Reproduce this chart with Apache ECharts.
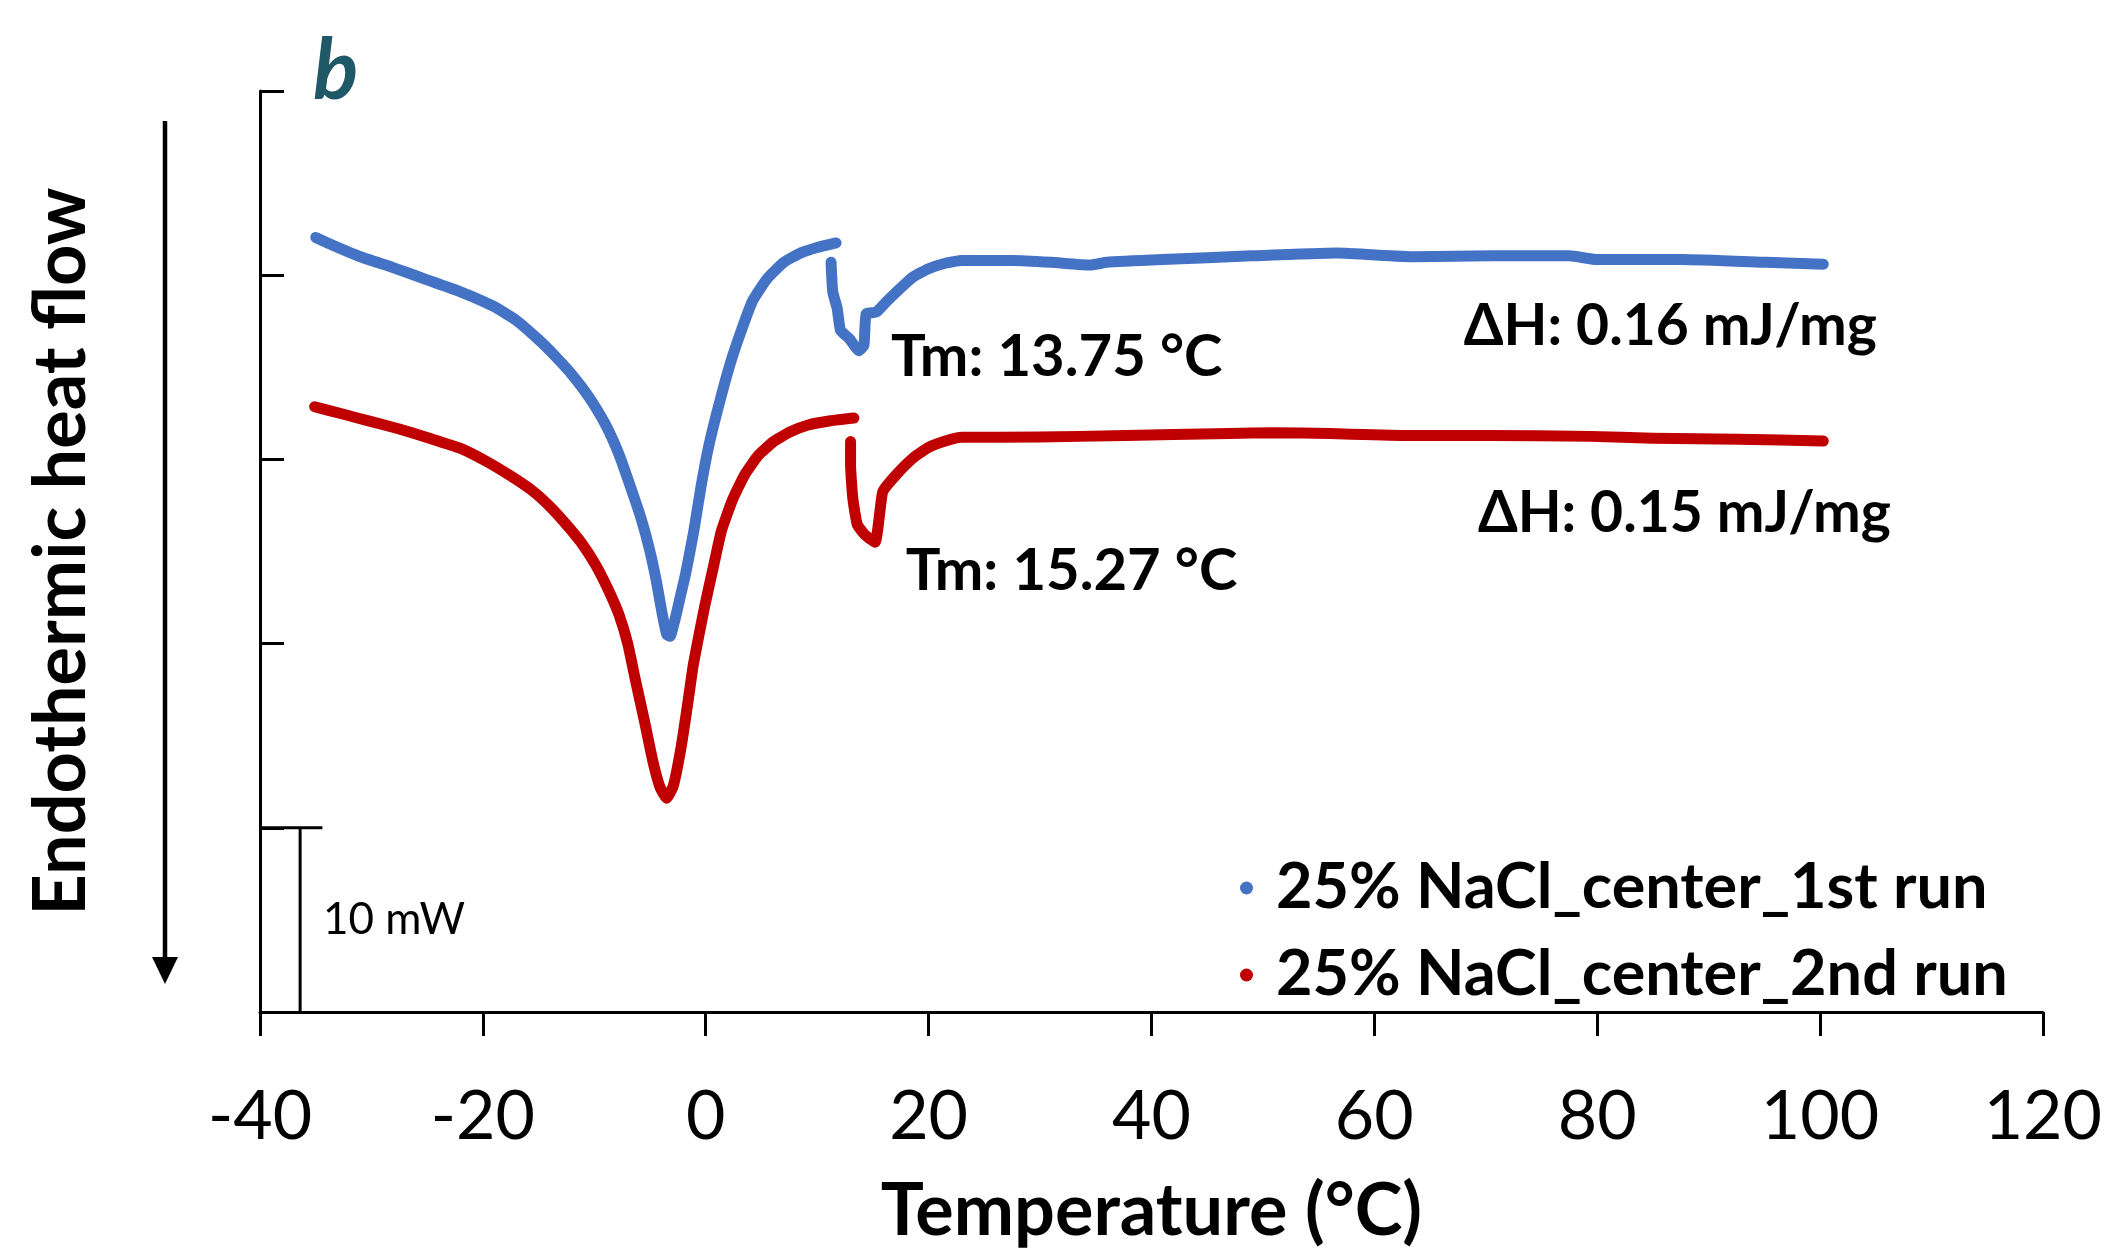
<!DOCTYPE html>
<html><head><meta charset="utf-8">
<script src="https://cdn.jsdelivr.net/npm/echarts@6/dist/echarts.min.js"></script>
<style>html,body{margin:0;padding:0;background:#fff}#c{width:2105px;height:1253px}</style>
</head><body><div id="c"></div>
<script>
// ---- data ----
const seriesNames = ['25% NaCl_center_1st run', '25% NaCl_center_2nd run'];
const xTickRange = [-40, 120, 20];
const yTickRange = [0, 50, 10]; // mW, one tick = 10 mW (scale bar)

// 1st run: main freezing/melting trough segment
const run1MainTemp = [-35.0,-33.0,-31.0,-28.0,-25.0,-22.0,-19.0,-17.0,-15.0,-13.5,-12.0,-10.5,-9.0,-7.8,-6.8,-5.8,-5.0,-4.4,-3.9,-3.5,-3.2,-2.8,-2.3,-1.8,-1.1,-0.4,0.3,1.2,2.2,3.2,4.2,5.5,7.0,8.5,10.0,11.7];
const run1MainFlow = [42.05,41.5,41.0,40.4,39.75,39.1,38.3,37.55,36.5,35.6,34.6,33.4,31.9,30.3,28.6,26.8,25.0,23.3,21.6,20.5,20.4,21.2,22.5,23.8,26.0,28.6,30.8,33.0,35.2,37.0,38.6,39.8,40.7,41.2,41.5,41.75];
// 1st run: small melting peak and baseline
const run1MeltTemp = [11.25,11.4,11.8,12.1,12.9,13.75,14.2,14.4,15.3,16.2,17.4,18.6,20.0,21.5,23.0,27.5,31.0,34.5,36.0,41.0,49.0,56.6,63.6,70.6,77.5,80.0,87.6,95.2,100.3];
const run1MeltFlow = [40.7,39.1,38.2,37.0,36.55,35.9,36.2,37.9,38.0,38.55,39.25,39.9,40.35,40.65,40.8,40.8,40.7,40.55,40.7,40.85,41.05,41.2,41.0,41.05,41.05,40.85,40.85,40.7,40.6];
// 2nd run
const run2MainTemp = [-35.1,-32.5,-30.0,-27.5,-24.8,-22.0,-19.7,-17.5,-15.5,-14.0,-12.5,-11.2,-9.9,-8.8,-7.8,-7.0,-6.3,-5.5,-4.7,-4.1,-3.5,-2.9,-2.2,-1.6,-1.1,-0.1,0.7,1.4,2.4,3.5,4.7,6.1,7.6,9.2,11.2,13.3];
const run2MainFlow = [32.86,32.45,32.05,31.65,31.15,30.6,29.9,29.1,28.27,27.45,26.46,25.5,24.3,23.0,21.6,20.0,18.0,15.8,13.5,12.2,11.6,12.3,14.4,16.8,18.9,22.0,24.2,26.1,27.8,29.17,30.2,30.97,31.5,31.87,32.1,32.25];
const run2MeltTemp = [13.0,13.0,13.2,13.6,14.3,15.2,15.6,15.9,17.1,18.6,20.0,21.5,23.0,26.3,33.5,42.0,47.0,51.0,56.0,63.0,70.0,79.4,85.0,92.7,100.3];
const run2MeltFlow = [30.97,29.7,27.9,26.46,25.9,25.5,27.0,28.27,29.17,30.07,30.65,31.0,31.2,31.2,31.25,31.35,31.4,31.45,31.4,31.3,31.3,31.25,31.15,31.1,31.0];

const annotationTexts = ['Tm: 13.75 °C', 'Tm: 15.27 °C', 'ΔH: 0.16 mJ/mg', 'ΔH: 0.15 mJ/mg'];
const scaleBarLabel = '10 mW';
const yAxisTitle = 'Endothermic heat flow';
const xAxisTitle = 'Temperature (°C)';
const panelLabel = 'b';

// ---- build ----
const zip = (a, b) => a.map((v, i) => [v, b[i]]);
const BLUE = '#4472C4', RED = '#C00000';
const FONT = 'Lato';

const chart = echarts.init(document.getElementById('c'));
const lineSeries = (name, data, color) => ({
  type: 'line', name, data, showSymbol: false, smooth: 0.15,
  lineStyle: { color, width: 11, cap: 'round', join: 'round' },
  itemStyle: { color }, z: 3, animation: false
});

chart.setOption({
  backgroundColor: '#fff',
  animation: false,
  grid: { left: 260, right: 60, top: 91, bottom: 237, containLabel: false },
  xAxis: {
    type: 'value', min: xTickRange[0], max: xTickRange[1], interval: xTickRange[2],
    axisLine: { onZero: false, lineStyle: { color: '#000', width: 3 } },
    axisTick: { show: true, inside: false, length: 24, lineStyle: { color: '#000', width: 3 } },
    axisLabel: { color: '#000', fontFamily: FONT, fontSize: 68, margin: 71 },
    splitLine: { show: false },
    name: xAxisTitle, nameLocation: 'middle', nameGap: 164,
    nameTextStyle: { color: '#000', fontFamily: FONT, fontWeight: 'bold', fontSize: 72 }
  },
  yAxis: {
    type: 'value', min: yTickRange[0], max: yTickRange[1], interval: yTickRange[2],
    axisLine: { onZero: false, lineStyle: { color: '#000', width: 3 } },
    axisTick: { show: true, inside: true, length: 24, lineStyle: { color: '#000', width: 3 } },
    axisLabel: { show: false },
    splitLine: { show: false },
    name: yAxisTitle, nameLocation: 'middle', nameGap: 162, nameRotate: 90,
    nameTextStyle: { color: '#000', fontFamily: FONT, fontWeight: 'bold', fontSize: 72 }
  },
  legend: {
    data: seriesNames, orient: 'vertical', left: 1235, top: 848,
    icon: 'circle', itemWidth: 13, itemHeight: 13, itemGap: 17,
    textStyle: { color: '#000', fontFamily: FONT, fontWeight: 'bold', fontSize: 63, lineHeight: 70, padding: [0, 0, 0, 18] }
  },
  series: [
    lineSeries(seriesNames[0], zip(run1MainTemp, run1MainFlow), BLUE),
    lineSeries(seriesNames[0], zip(run1MeltTemp, run1MeltFlow), BLUE),
    lineSeries(seriesNames[1], zip(run2MainTemp, run2MainFlow), RED),
    lineSeries(seriesNames[1], zip(run2MeltTemp, run2MeltFlow), RED),
    { // 10 mW scale bar drawn in data coordinates
      type: 'line', silent: true, showSymbol: false, animation: false,
      lineStyle: { color: '#000', width: 3 },
      data: [[-40, 10], [-34.4, 10], null, [-36.4, 10], [-36.4, 0]], connectNulls: false
    }
  ]
});

const px = p => chart.convertToPixel({ gridIndex: 0 }, p);
const txt = (pos, text, size, weight) => {
  const p = px(pos);
  return { type: 'text', x: p[0], y: p[1], style: { text, fill: '#000', font: `${weight} ${size}px ${FONT}`, textAlign: 'left', textVerticalAlign: 'middle' }, z: 10 };
};
chart.setOption({
  graphic: [
    txt([16.62, 35.53], annotationTexts[0], 58, 'bold'),
    txt([17.96, 23.91], annotationTexts[1], 58, 'bold'),
    txt([68.04, 37.23], annotationTexts[2], 57, 'bold'),
    txt([69.3, 27.04], annotationTexts[3], 57, 'bold'),
    txt([-34.35, 4.99], scaleBarLabel, 44, 'normal'),
    { type: 'text', x: 313, y: 72, style: { text: panelLabel, fill: '#1F5866', font: `italic bold 84px ${FONT}`, textAlign: 'left', textVerticalAlign: 'middle' } },
    { type: 'line', shape: { x1: 165, y1: 121, x2: 165, y2: 962 }, style: { stroke: '#000', lineWidth: 4.5 } },
    { type: 'polygon', shape: { points: [[152, 957], [178, 957], [165, 984]] }, style: { fill: '#000' } }
  ]
});
</script></body></html>
